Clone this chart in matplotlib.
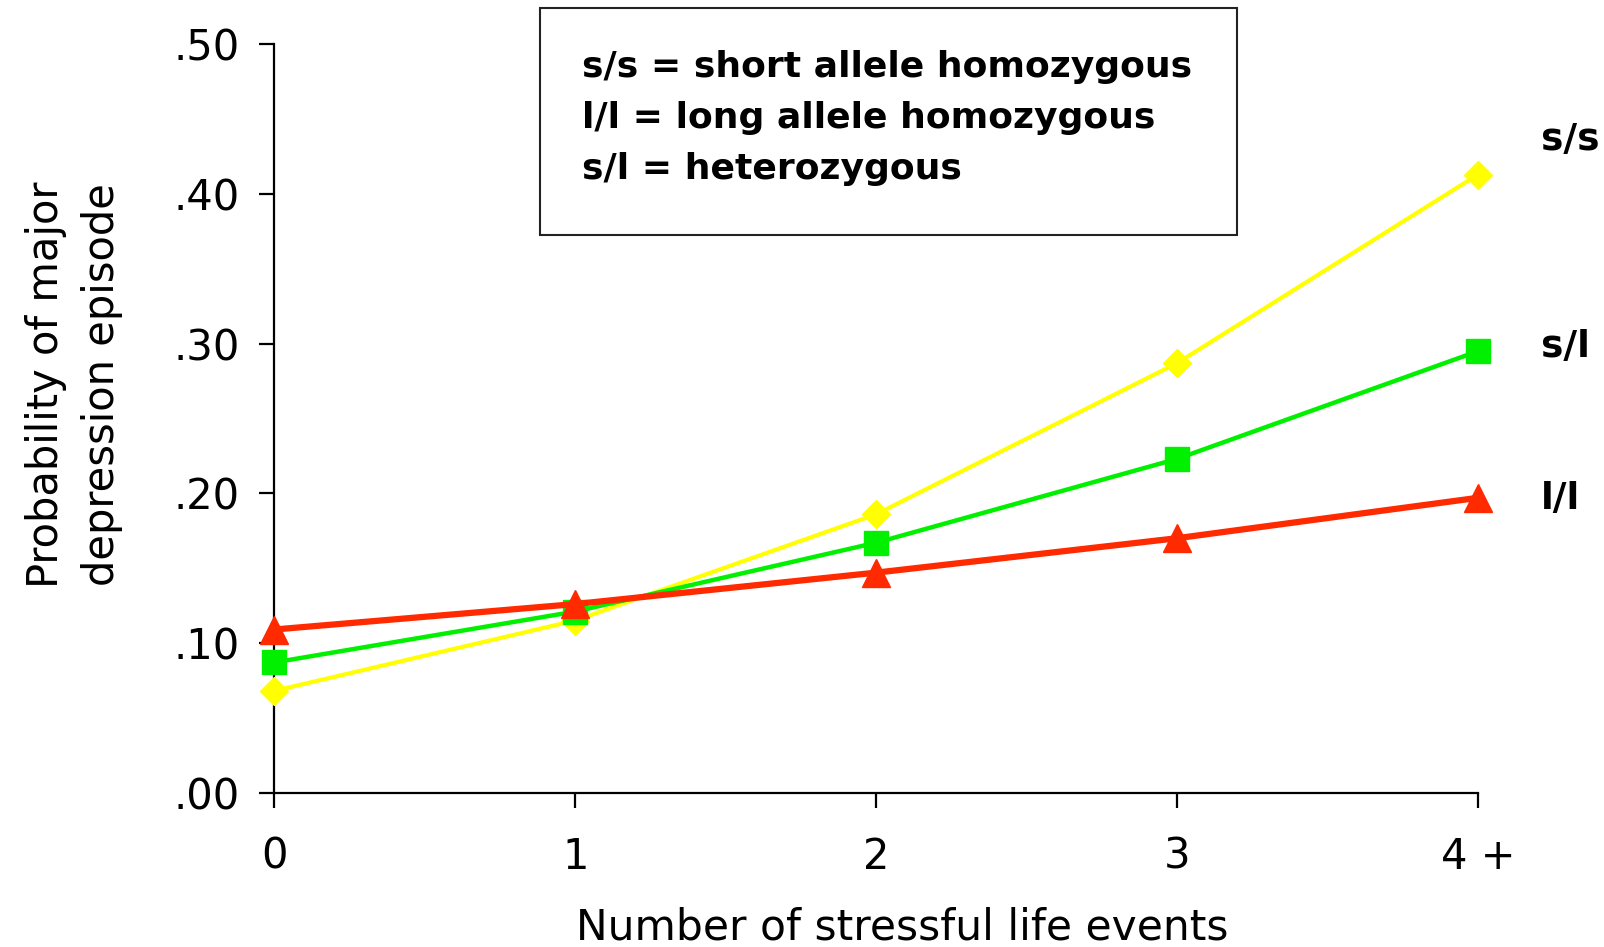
import matplotlib.pyplot as plt
from matplotlib.patches import Rectangle

events = [0, 1, 2, 3, 4]
event_labels = ['0', '1', '2', '3', '4 +']
ss = [0.068, 0.115, 0.186, 0.287, 0.413]
sl = [0.087, 0.121, 0.167, 0.223, 0.295]
ll = [0.109, 0.126, 0.147, 0.170, 0.197]
yticks = [0.0, 0.1, 0.2, 0.3, 0.4, 0.5]
ytick_labels = ['.00', '.10', '.20', '.30', '.40', '.50']
key_lines = ['s/s = short allele homozygous', 'l/l = long allele homozygous', 's/l = heterozygous']
end_labels = ['s/s', 's/l', 'l/l']
end_label_y = [138, 345, 497]  # pixel rows of the right-hand labels

plt.rcParams['font.family'] = ['DejaVu Sans']

fig = plt.figure(figsize=(16.04, 9.47), dpi=100)
ax = fig.add_axes([0.171, 0.163, 0.7505, 0.7902])

ax.plot(events, ss, color='#ffff00', lw=3.0, marker='D', ms=14, clip_on=False, zorder=3)
ax.plot(events, sl, color='#00f000', lw=3.2, marker='s', ms=17, clip_on=False, zorder=4)
ax.plot(events, ll, color='#ff2a00', lw=4.5, marker='^', ms=20, clip_on=False, zorder=5)

ax.set_xlim(0, 4)
ax.set_ylim(0, 0.5)
ax.set_xticks(events)
ax.set_xticklabels(event_labels)
ax.set_yticks(yticks)
ax.set_yticklabels(ytick_labels)
for s in ['top', 'right']:
    ax.spines[s].set_visible(False)
for s in ['left', 'bottom']:
    ax.spines[s].set_linewidth(1.6)
ax.tick_params(direction='out', length=11, width=1.6, labelsize=30)
ax.tick_params(axis='y', pad=14)
ax.tick_params(axis='x', pad=20)

ax.set_xlabel('Number of stressful life events', fontsize=30.5)
ax.xaxis.set_label_coords(0.5215, -0.152)
ax.set_ylabel('Probability of major\ndepression episode', fontsize=30, linespacing=1.4)
ax.yaxis.set_label_coords(-0.126, 0.545)

# right-hand series labels
for lab, yp in zip(end_labels, end_label_y):
    fig.text(1541 / 1604, 1 - (yp + 2) / 947, lab, fontsize=27, fontweight='bold', va='center')

# key box
fig.patches.append(Rectangle((540 / 1604, 1 - 235 / 947), 697 / 1604, 227 / 947,
                             transform=fig.transFigure, fill=False, ec='#222222', lw=1.5))
for i, line in enumerate(key_lines):
    fig.text(582 / 1604, 1 - (67 + 51 * i) / 947, line, fontsize=26, fontweight='bold', va='center')

fig.savefig('out.png', dpi=100)
